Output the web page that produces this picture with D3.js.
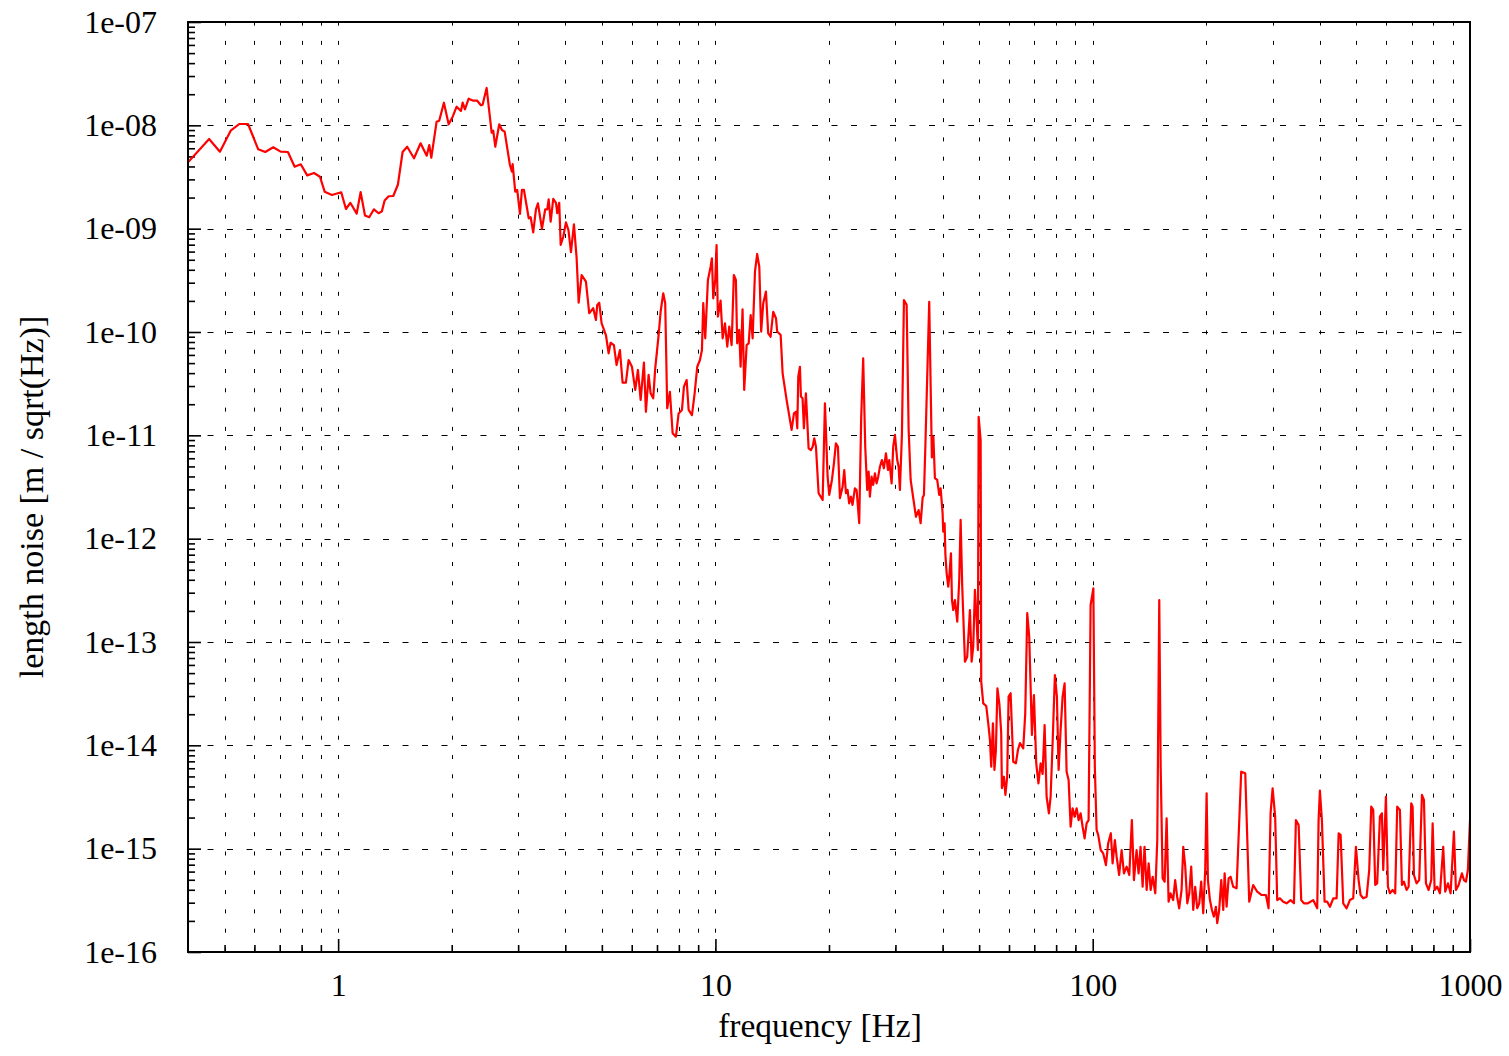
<!DOCTYPE html>
<html><head><meta charset="utf-8">
<script src="https://cdn.jsdelivr.net/npm/d3@7"></script>
<style>body{margin:0;background:#fff} svg{display:block}</style>
</head><body>
<svg id="c" width="1509" height="1056"></svg>
<script>
const freq = [
0.4, 0.455, 0.486, 0.519, 0.547, 0.577, 0.614, 0.641, 0.673, 0.704,
0.736, 0.767, 0.796, 0.828, 0.863, 0.895, 0.921, 0.963, 1.019, 1.049,
1.077, 1.120, 1.147, 1.178, 1.209, 1.244, 1.280, 1.306, 1.328, 1.361,
1.400, 1.440, 1.482, 1.524, 1.589, 1.654, 1.717, 1.744, 1.766, 1.824,
1.853, 1.907, 1.963, 2.012, 2.061, 2.116, 2.138, 2.168, 2.218, 2.281,
2.337, 2.390, 2.415, 2.475, 2.552, 2.577, 2.609, 2.673, 2.718, 2.763,
2.853, 2.888, 2.901, 2.947, 2.983, 3.033, 3.070, 3.108, 3.200, 3.238,
3.289, 3.344, 3.385, 3.469, 3.539, 3.583, 3.614, 3.658, 3.717, 3.779,
3.809, 3.855, 3.889, 3.951, 4.016, 4.078, 4.141, 4.217, 4.287, 4.340,
4.420, 4.537, 4.629, 4.744, 4.823, 4.861, 4.921, 4.993, 5.126, 5.211,
5.275, 5.382, 5.471, 5.583, 5.675, 5.791, 5.888, 6.008, 6.130, 6.232,
6.336, 6.464, 6.543, 6.651, 6.733, 6.841, 6.925, 7.070, 7.157, 7.272,
7.361, 7.451, 7.575, 7.701, 7.858, 7.988, 8.152, 8.252, 8.389, 8.492,
8.665, 8.809, 8.950, 9.099, 9.210, 9.284, 9.398, 9.552, 9.711, 9.789,
9.867, 9.988, 10.07, 10.15, 10.32, 10.45, 10.60, 10.75, 10.88, 11.04,
11.19, 11.33, 11.42, 11.56, 11.66, 11.80, 11.92, 12.10, 12.25, 12.40,
12.55, 12.73, 12.90, 13.07, 13.22, 13.39, 13.61, 13.80, 14.00, 14.23,
14.47, 14.58, 14.89, 15.07, 15.44, 15.92, 16.15, 16.35, 16.48, 16.58,
16.75, 16.85, 17.02, 17.16, 17.37, 17.66, 17.91, 18.10, 18.28, 18.47,
18.77, 19.24, 19.51, 19.83, 20.03, 20.36, 20.61, 20.86, 21.12, 21.38,
21.73, 21.95, 22.18, 22.40, 22.62, 22.86, 23.09, 23.42, 23.67, 24.05,
24.34, 24.64, 24.95, 25.25, 25.47, 25.67, 25.94, 26.19, 26.47, 26.74,
27.01, 27.29, 27.62, 27.96, 28.31, 28.66, 28.89, 29.31, 29.60, 29.91,
30.33, 30.59, 30.83, 31.21, 31.60, 32.12, 32.52, 32.92, 33.45, 34.00,
34.56, 34.99, 35.42, 35.70, 36.03, 36.87, 37.47, 37.82, 38.17, 38.71,
39.19, 39.53, 40.01, 40.16, 40.50, 40.70, 41.01, 41.41, 41.66, 42.10,
42.36, 42.69, 43.14, 43.75, 44.28, 44.66, 45.10, 45.85, 46.49, 47.27,
47.76, 48.23, 48.73, 49.24, 49.63, 49.85, 50.46, 50.64, 51.27, 52.22,
52.86, 53.41, 53.83, 54.39, 54.89, 55.39, 55.90, 56.58, 57.21, 57.45,
58.16, 58.69, 59.34, 59.85, 60.59, 61.56, 62.58, 63.36, 64.14, 65.45,
66.25, 67.06, 67.88, 69.01, 69.86, 70.85, 71.80, 72.77, 73.66, 74.56,
75.48, 76.54, 77.34, 78.29, 79.39, 80.37, 81.21, 82.21, 83.22, 84.24,
85.27, 86.32, 87.38, 88.45, 89.54, 90.64, 91.75, 92.88, 94.02, 95.17,
96.34, 97.52, 98.72, 100.4, 101.3, 102.4, 103.4, 105.0, 106.6, 108.4,
109.9, 111.7, 112.9, 114.5, 115.7, 117.5, 119.3, 121.0, 123.0, 125.0,
127.0, 128.6, 130.7, 132.3, 133.9, 135.6, 137.2, 139.0, 140.7, 142.4,
144.2, 146.5, 148.3, 150.1, 151.4, 153.2, 155.1, 157.0, 158.9, 160.8,
163.4, 165.4, 167.4, 169.5, 172.0, 173.8, 175.9, 178.1, 180.3, 182.4,
184.7, 186.9, 189.2, 191.6, 193.9, 196.3, 198.7, 200.4, 202.0, 204.5,
207.0, 209.5, 212.1, 213.8, 216.4, 219.1, 221.8, 223.7, 226.4, 229.2,
232.0, 235.7, 240.6, 247.5, 253.7, 259.9, 266.3, 272.9, 280.4, 287.8,
292.5, 296.1, 299.8, 304.5, 308.3, 313.4, 319.8, 326.5, 334.6, 341.5,
345.6, 351.4, 357.0, 362.9, 371.9, 384.1, 393.6, 396.9, 400.1, 405.0,
411.7, 418.4, 425.4, 434.1, 443.1, 448.6, 454.0, 461.3, 470.9, 480.5,
490.3, 498.5, 506.7, 512.9, 521.2, 532.1, 540.6, 547.3, 554.0, 560.8,
567.6, 577.1, 584.2, 588.9, 598.6, 606.0, 613.4, 623.6, 633.5, 641.3,
652.0, 660.0, 668.1, 679.2, 687.6, 698.6, 704.6, 710.2, 721.9, 733.5,
745.8, 755.0, 764.2, 776.8, 789.3, 796.1, 805.9, 818.8, 832.4, 849.3,
859.7, 874.1, 888.4, 906.6, 917.8, 932.9, 951.8, 963.6, 975.4, 987.2,
1000
];
const noise = [
4.39e-9, 7.38e-9, 5.56e-9, 8.87e-9, 1.03e-8, 1.03e-8, 5.86e-9, 5.52e-9, 6.13e-9, 5.56e-9,
5.52e-9, 3.98e-9, 4.20e-9, 3.28e-9, 3.46e-9, 3.18e-9, 2.28e-9, 2.12e-9, 2.25e-9, 1.55e-9,
1.78e-9, 1.40e-9, 2.26e-9, 1.34e-9, 1.29e-9, 1.54e-9, 1.41e-9, 1.47e-9, 1.87e-9, 2.06e-9,
2.07e-9, 2.66e-9, 5.52e-9, 6.21e-9, 4.80e-9, 6.70e-9, 5.08e-9, 6.45e-9, 4.86e-9, 1.084e-8,
1.109e-8, 1.656e-8, 1.023e-8, 1.212e-8, 1.515e-8, 1.377e-8, 1.656e-8, 1.429e-8, 1.81e-8, 1.731e-8,
1.731e-8, 1.563e-8, 1.584e-8, 2.298e-8, 8.48e-9, 8.87e-9, 6.21e-9, 1.023e-8, 9.01e-9, 8.68e-9,
4.13e-9, 3.56e-9, 4.22e-9, 2.28e-9, 2.37e-9, 1.39e-9, 2.37e-9, 2.37e-9, 1.26e-9, 1.29e-9,
9.22e-10, 1.54e-9, 1.76e-9, 9.99e-10, 1.54e-9, 1.54e-9, 1.92e-9, 1.17e-9, 1.94e-9, 1.78e-9,
1.41e-9, 1.78e-9, 6.95e-10, 8.36e-10, 1.15e-9, 9.70e-10, 5.94e-10, 1.10e-9, 5.17e-10, 1.92e-10,
3.56e-10, 3.07e-10, 1.52e-10, 1.70e-10, 1.31e-10, 1.83e-10, 1.92e-10, 1.21e-10, 9.35e-11, 6.22e-11,
7.87e-11, 7.48e-11, 4.79e-11, 6.69e-11, 3.23e-11, 3.23e-11, 5.36e-11, 4.61e-11, 2.75e-11, 4.29e-11,
2.20e-11, 5.05e-11, 1.69e-11, 3.84e-11, 2.55e-11, 2.28e-11, 4.45e-11, 9.35e-11, 1.57e-10, 2.37e-10,
1.90e-10, 1.83e-11, 2.64e-11, 1.05e-11, 9.70e-12, 1.63e-11, 1.76e-11, 2.96e-11, 3.43e-11, 1.76e-11,
1.57e-11, 2.55e-11, 4.61e-11, 5.36e-11, 6.69e-11, 1.90e-10, 8.69e-11, 3.19e-10, 4.28e-10, 5.17e-10,
2.12e-10, 3.19e-10, 6.95e-10, 1.41e-10, 2.01e-10, 8.69e-11, 1.21e-10, 7.20e-11, 1.13e-10, 7.48e-11,
3.56e-10, 3.19e-10, 7.77e-11, 1.05e-10, 4.61e-11, 1.66e-10, 2.75e-11, 7.48e-11, 7.77e-11, 1.46e-10,
8.69e-11, 3.83e-10, 5.69e-10, 4.28e-10, 1.01e-10, 1.90e-10, 2.46e-10, 9.71e-11, 9.0e-11, 1.57e-10,
1.36e-10, 1.01e-10, 9.35e-11, 3.98e-11, 2.20e-11, 1.13e-11, 1.63e-11, 1.69e-11, 1.17e-11, 3.69e-11,
4.61e-11, 2.37e-11, 2.28e-11, 1.17e-11, 2.55e-11, 7.49e-12, 7.21e-12, 7.76e-12, 9.36e-12, 7.76e-12,
2.75e-12, 2.37e-12, 2.04e-11, 3.98e-12, 2.65e-12, 3.70e-12, 5.36e-12, 8.37e-12, 7.76e-12, 2.46e-12,
3.18e-12, 4.62e-12, 2.75e-12, 2.96e-12, 2.20e-12, 2.55e-12, 2.12e-12, 3.07e-12, 2.96e-12, 1.41e-12,
1.46e-11, 5.57e-11, 7.76e-12, 2.96e-12, 4.45e-12, 2.55e-12, 3.98e-12, 3.31e-12, 4.29e-12, 3.43e-12,
3.98e-12, 4.97e-12, 5.77e-12, 4.80e-12, 6.70e-12, 4.62e-12, 5.77e-12, 3.43e-12, 7.76e-12, 1.01e-11,
5.77e-12, 4.97e-12, 2.96e-12, 1.01e-11, 2.04e-10, 1.83e-10, 1.13e-11, 3.70e-12, 2.46e-12, 1.63e-12,
1.89e-12, 1.41e-12, 2.50e-12, 2.65e-12, 8.37e-12, 1.96e-10, 6.10e-12, 9.70e-12, 3.86e-12, 3.70e-12,
2.65e-12, 3.07e-12, 1.76e-12, 1.17e-12, 1.41e-12, 6.95e-13, 4.62e-13, 3.43e-13, 4.28e-13, 7.22e-13,
2.55e-13, 2.04e-13, 2.55e-13, 1.57e-13, 3.98e-13, 1.52e-12, 3.43e-13, 6.45e-14, 7.21e-14, 2.04e-13,
6.45e-14, 9.0e-14, 3.19e-13, 1.63e-13, 8.36e-14, 1.51e-11, 9.01e-12, 4.13e-14, 2.55e-14, 2.40e-14,
1.63e-14, 1.13e-14, 6.21e-15, 1.63e-14, 5.77e-15, 9.01e-15, 3.56e-14, 2.51e-14, 1.31e-14, 3.86e-15,
4.97e-15, 3.31e-15, 4.97e-15, 2.96e-14, 3.19e-14, 6.94e-15, 6.70e-15, 9.01e-15, 1.05e-14, 9.36e-15,
2.04e-14, 1.90e-13, 1.13e-13, 1.26e-14, 3.07e-14, 6.70e-15, 4.29e-15, 6.70e-15, 5.28e-15, 1.57e-14,
3.18e-15, 2.20e-15, 3.18e-15, 1.05e-14, 4.79e-14, 2.96e-14, 5.77e-15, 1.41e-14, 2.96e-14, 3.98e-14,
5.56e-15, 4.62e-15, 1.63e-15, 2.46e-15, 2.04e-15, 2.46e-15, 1.89e-15, 2.20e-15, 1.63e-15, 1.26e-15,
1.76e-15, 1.89e-15, 2.28e-13, 3.31e-13, 6.21e-15, 1.52e-15, 1.36e-15, 9.70e-16, 9.01e-16, 6.94e-16,
1.13e-15, 1.41e-15, 7.21e-16, 1.21e-15, 8.36e-16, 5.56e-16, 9.70e-16, 5.77e-16, 6.69e-16, 5.56e-16,
1.89e-15, 4.97e-16, 9.70e-16, 5.77e-16, 1.04e-15, 4.28e-16, 1.04e-15, 3.98e-16, 7.21e-16, 3.98e-16,
5.35e-16, 3.70e-16, 1.21e-15, 2.55e-13, 6.21e-15, 5.16e-16, 4.79e-16, 1.97e-15, 3.07e-16, 3.70e-16,
3.18e-16, 4.97e-16, 3.43e-16, 2.65e-16, 3.98e-16, 1.04e-15, 6.69e-16, 2.96e-16, 3.70e-16, 6.69e-16,
2.55e-16, 4.28e-16, 2.65e-16, 2.96e-16, 4.79e-16, 2.37e-16, 6.21e-16, 3.43e-15, 4.97e-16, 3.18e-16,
2.55e-16, 2.20e-16, 2.74e-16, 1.90e-16, 2.55e-16, 4.97e-16, 2.55e-16, 5.77e-16, 2.74e-16, 5.16e-16,
5.35e-16, 4.28e-16, 4.13e-16, 5.56e-15, 5.36e-15, 3.07e-16, 4.45e-16, 3.83e-16, 3.56e-16, 3.56e-16,
2.65e-16, 2.20e-15, 3.84e-15, 2.04e-15, 3.18e-16, 3.31e-16, 3.07e-16, 2.96e-16, 3.18e-16, 2.96e-16,
1.89e-15, 1.69e-15, 3.18e-16, 2.96e-16, 2.96e-16, 3.18e-16, 2.65e-16, 1.89e-15, 3.64e-15, 1.89e-15,
3.07e-16, 3.07e-16, 2.74e-16, 3.31e-16, 3.31e-16, 1.41e-15, 1.36e-15, 2.96e-16, 2.65e-16, 3.18e-16,
3.31e-16, 1.04e-15, 4.97e-16, 3.56e-16, 3.31e-16, 3.43e-16, 6.21e-16, 2.55e-15, 2.37e-15, 4.45e-16,
4.62e-16, 2.04e-15, 2.20e-15, 6.21e-16, 3.18e-15, 4.28e-16, 3.70e-16, 3.98e-16, 3.70e-16, 2.55e-15,
2.37e-15, 4.45e-16, 4.79e-16, 3.98e-16, 4.28e-16, 2.75e-15, 2.55e-15, 5.56e-16, 4.62e-16, 4.97e-16,
3.31e-15, 2.96e-15, 4.62e-16, 3.98e-16, 4.97e-16, 1.76e-15, 3.98e-16, 4.28e-16, 3.70e-16, 1.04e-15,
3.83e-16, 4.62e-16, 3.70e-16, 1.46e-15, 3.98e-16, 4.45e-16, 5.77e-16, 4.97e-16, 4.79e-16, 6.21e-16,
1.89e-15
];
const xMajor = [1, 10, 100, 1000];
const xTickLabels = ["1", "10", "100", "1000"];
const yMajor = [1e-16, 1e-15, 1e-14, 1e-13, 1e-12, 1e-11, 1e-10, 1e-9, 1e-8, 1e-7];
const yTickLabels = ["1e-16", "1e-15", "1e-14", "1e-13", "1e-12", "1e-11", "1e-10", "1e-09", "1e-08", "1e-07"];
const xTitle = "frequency [Hz]";
const yTitle = "length noise [m / sqrt(Hz)]";

const L = 188, R = 1470, T = 22, B = 952;
const FONT = "'Liberation Serif','Times New Roman',serif";
const svg = d3.select("#c");
const x = d3.scaleLog().domain([0.4, 1000]).range([L, R]);
const y = d3.scaleLog().domain([1e-16, 1e-7]).range([B, T]);

// minor ticks
const xMinor = [];
[0.1, 1, 10, 100].forEach(d => { for (let k = 2; k <= 9; k++) { const v = +(k * d).toPrecision(3); if (v > 0.4 && v < 1000) xMinor.push(v); } });
const yMinor = [];
yMajor.slice(0, -1).forEach(d => { for (let k = 2; k <= 9; k++) yMinor.push(k * d); });

// grid
const grid = svg.append("g").attr("stroke", "#000").attr("stroke-width", 1);
grid.selectAll("line.v").data(xMinor.concat(xMajor.filter(v => v < 1000))).join("line")
  .attr("x1", d => Math.round(x(d)) + 0.5).attr("x2", d => Math.round(x(d)) + 0.5)
  .attr("y1", B).attr("y2", T).attr("stroke-dasharray", "4,15.3");
grid.selectAll("line.h").data(yMajor.slice(1, -1)).join("line")
  .attr("y1", d => Math.round(y(d)) + 0.5).attr("y2", d => Math.round(y(d)) + 0.5)
  .attr("x1", L).attr("x2", R).attr("stroke-dasharray", "6,13.5");

// axes
function styleAxis(g) {
  g.select(".domain").remove();
  g.selectAll("line").attr("stroke", "#000").attr("stroke-width", 1.6);
  g.selectAll("text").attr("font-family", FONT).attr("font-size", 32).attr("fill", "#000");
}
svg.append("g").attr("transform", `translate(0,${B})`)
  .call(d3.axisBottom(x).tickValues(xMinor).tickSize(-7).tickFormat("")).call(styleAxis);
svg.append("g").attr("transform", `translate(0,${B})`)
  .call(d3.axisBottom(x).tickValues(xMajor).tickSize(-13).tickPadding(21).tickFormat((d, i) => xTickLabels[i])).call(styleAxis);
svg.append("g").attr("transform", `translate(${L},0)`)
  .call(d3.axisLeft(y).tickValues(yMinor).tickSize(-7).tickFormat("")).call(styleAxis);
svg.append("g").attr("transform", `translate(${L},0)`)
  .call(d3.axisLeft(y).tickValues(yMajor).tickSize(-13).tickPadding(31).tickFormat((d, i) => yTickLabels[i])).call(styleAxis);

// data line
svg.append("clipPath").attr("id", "clip").append("rect").attr("x", L).attr("y", T).attr("width", R - L).attr("height", B - T);
const pts = freq.map((f, i) => [f, noise[i]]);
svg.append("path").datum(pts).attr("clip-path", "url(#clip)")
  .attr("fill", "none").attr("stroke", "#ff0000").attr("stroke-width", 2.2).attr("stroke-linejoin", "round")
  .attr("d", d3.line().x(d => x(d[0])).y(d => y(d[1])));

// border
svg.append("rect").attr("x", L).attr("y", T).attr("width", R - L).attr("height", B - T)
  .attr("fill", "none").attr("stroke", "#000").attr("stroke-width", 2);

// titles
svg.append("text").attr("x", 820).attr("y", 1037).attr("text-anchor", "middle")
  .attr("font-family", FONT).attr("font-size", 33.5).text(xTitle);
svg.append("text").attr("transform", "translate(43,497) rotate(-90)").attr("text-anchor", "middle")
  .attr("font-family", FONT).attr("font-size", 34).text(yTitle);
</script>
</body></html>
